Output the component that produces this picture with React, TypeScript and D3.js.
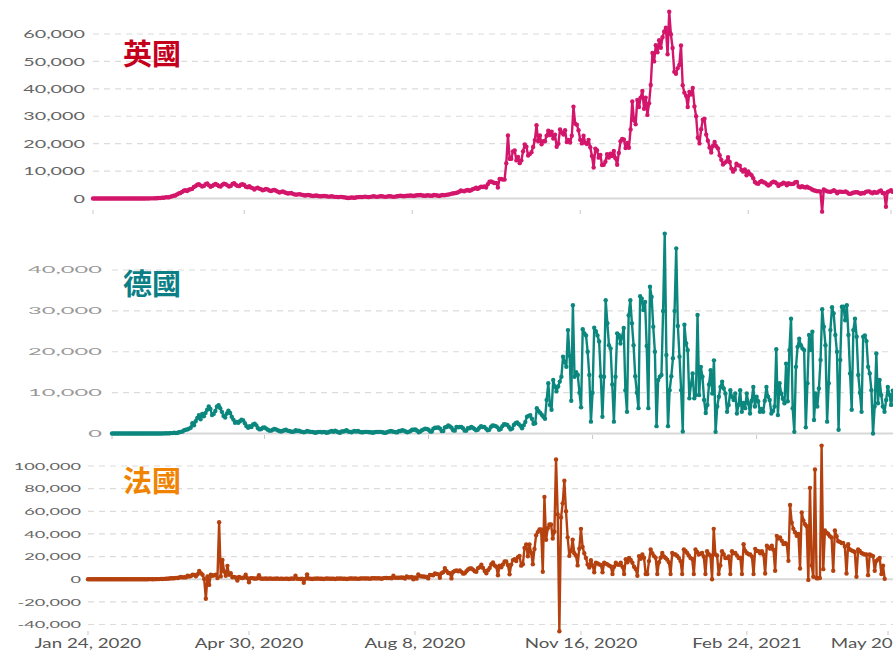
import React from "react";
import * as d3 from "d3";

// ---------- DATA (daily new cases, in thousands) ----------
// UK: daily from 2020-01-31
const ukCasesK = [
  0,0,0,0,0,0,0,0,0,0, 0,0,0,0,0,0,0,0,0,0, 0,0,0,0,0,0,0,0,0,0,
  0.01,0.01,0.03,0.02,0.05, 0.05,0.05,0.1,0.1,0.2,
  0.15,0.25,0.3,0.4,0.5, 0.4,0.6,0.8,1.0,1.1,
  1.5,1.8,2.0,2.4,2.8, 3.0,2.7,3.2,3.4,3.5,
  4.2,4.5,5.0,5.2,4.8, 4.4,4.6,5.2,5.5,4.8,
  4.3,4.6,5.0,5.3,4.9, 4.5,4.4,5.0,5.4,5.2,
  4.8,4.4,4.6,5.3,5.6, 5.0,4.6,4.5,5.0,5.2,
  4.9,4.3,4.1,4.5,4.0, 3.8,3.3,3.7,3.9,3.6,
  3.4,3.0,3.2,3.5,3.3, 2.9,2.7,3.0,3.1,2.8,
  2.5,2.2,2.4,2.6,2.3, 2.0,1.8,1.9,2.0,1.7,
  1.5,1.4,1.5,1.6,1.4, 1.3,1.1,1.2,1.3,1.2,
  1.0,0.9,1.0,1.1,0.9, 0.8,0.8,0.9,0.9,0.8,
  0.7,0.7,0.8,0.7,0.6, 0.6,0.5,0.6,0.6,0.5,
  0.4,0.3,0.2,0.3,0.4, 0.3,0.3,0.5,0.5,0.6,
  0.5,0.6,0.7,0.6,0.5, 0.6,0.7,0.8,0.7,0.6,
  0.7,0.8,0.8,0.7,0.6, 0.7,0.8,0.8,0.7,0.6,
  0.7,0.8,0.9,1.0,0.9, 0.8,0.9,1.0,1.0,1.1,
  1.0,0.9,1.1,1.2,1.2, 1.3,1.1,1.0,1.0,1.2,
  1.1,1.0,1.0,1.3,1.2, 1.1,0.9,1.1,1.3,1.2,
  1.3,1.4,1.5,1.7,1.8, 1.9,2.0,2.2,2.5,2.9,
  2.7,2.6,2.9,3.1,2.8, 3.0,3.4,3.6,3.9,3.5,
  3.9,4.3,4.2,4.4,4.0, 5.2,6.1,6.2,5.9,5.6,
  5.7,4.0,7.1,7.1,6.9,6.9,
  12.9,23.0,14.5,14.5,17.2,17.5,13.9,15.2,12.9,
  13.9,17.2,19.7,18.9,15.7,16.2,16.9,
  18.8,21.3,26.7,20.9,23.0,19.8,20.9,
  20.9,22.9,24.7,23.1,24.4,21.9,23.3,
  18.9,20.0,25.2,24.1,23.3,24.9,20.6,
  21.4,20.4,22.9,33.5,27.3,26.9,24.9,
  21.4,20.1,22.9,20.3,19.9,21.4,18.7,
  15.5,11.3,18.2,17.6,14.9,15.9,12.2,
  12.3,13.4,16.2,14.9,16.3,15.5,17.3,
  14.7,12.3,16.6,20.9,21.7,21.5,18.4,
  20.3,18.5,25.2,35.4,28.5,27.1,35.9,
  33.4,36.8,39.2,32.7,36.8,30.5,34.7,
  41.4,53.1,50.0,55.9,53.3,57.7,55.0,
  58.8,60.9,62.3,52.6,68.1,59.9,54.9,
  46.2,45.5,47.5,48.7,55.8,41.3,38.6,
  37.5,33.4,38.9,37.9,40.3,33.6,30.0,
  22.2,20.1,25.3,28.7,29.1,23.3,21.1,
  18.6,16.8,19.2,20.6,19.1,18.3,15.8,
  14.1,12.4,13.0,13.5,15.1,13.3,10.9,
  9.8,10.6,12.7,12.1,12.0,10.4,9.8,
  10.6,8.5,9.9,9.0,8.5,7.4,6.0,
  5.5,5.4,6.0,6.4,5.9,5.8,5.2,
  4.7,5.1,5.8,6.1,5.9,5.5,4.6,
  5.1,5.3,5.8,5.5,4.8,5.6,5.3,
  5.3,5.4,5.9,6.0,4.4,4.1,4.5,
  4.2,4.0,4.3,3.9,3.7,3.3,3.0,
  2.8,2.6,2.7,2.5,-4.8,3.3,2.9,
  2.6,2.5,2.4,2.7,3.0,2.6,1.9,
  2.5,2.5,2.4,2.4,2.6,2.2,1.7,
  1.7,2.0,2.2,2.3,2.3,2.0,1.7,
  2.0,1.9,2.4,2.6,2.6,2.2,1.9,
  2.4,2.1,2.2,2.7,2.9,2.0,1.9,
  -3.0,2.4,2.7,3.0,2.4,
];

// Germany: daily from 2020-01-28
const deCasesK = [
  0,0,0,0,0,0,0,
  0,0,0,0,0,0,0,
  0,0,0,0,0,0,0,
  0,0,0,0,0,0,0,
  0,0,0.01,0.02,0.03,0.05,0.02,
  0.05,0.1,0.1,0.2,0.1,0.2,0.3,
  0.4,0.5,0.8,0.9,1.0,1.2,1.4,
  2.5,2.0,3.0,3.8,4.5,3.5,4.8,
  4.2,5.0,5.8,6.6,6.0,4.5,4.8,
  5.5,6.6,6.9,6.2,5.3,4.3,3.9,
  4.9,5.6,5.0,4.1,3.4,2.6,2.8,
  2.6,3.0,3.4,3.2,2.5,1.8,1.4,
  1.8,1.6,2.2,2.4,2.0,1.3,1.0,
  1.1,1.4,1.5,1.2,0.9,0.7,0.7,
  0.9,1.1,1.0,0.8,0.6,0.5,0.6,
  0.8,0.9,0.7,0.6,0.5,0.4,0.5,
  0.8,0.6,0.7,0.5,0.4,0.3,0.4,
  0.6,0.5,0.4,0.4,0.3,0.2,0.3,
  0.4,0.4,0.3,0.4,0.3,0.2,0.3,
  0.5,0.6,0.4,0.7,0.5,0.3,0.2,
  0.5,0.5,0.6,0.8,0.5,0.4,0.3,
  0.5,0.6,0.5,0.6,0.4,0.3,0.3,
  0.4,0.4,0.4,0.3,0.3,0.2,0.3,
  0.4,0.4,0.4,0.4,0.3,0.2,0.2,
  0.4,0.5,0.6,0.5,0.4,0.3,0.3,
  0.6,0.6,0.8,0.7,0.5,0.3,0.4,
  0.6,0.9,0.9,1.0,0.7,0.3,0.5,
  0.8,1.0,1.2,1.1,0.9,0.5,0.5,
  1.2,1.4,1.4,1.5,1.2,0.6,0.6,
  1.5,1.6,2.0,1.7,1.4,0.8,0.7,
  1.6,1.5,1.6,1.6,1.3,0.7,0.7,
  1.3,1.3,1.6,1.4,1.1,0.8,0.9,
  1.4,1.8,1.6,1.6,1.2,0.8,0.9,
  1.6,2.0,1.9,1.8,1.5,0.9,1.1,
  1.8,2.3,2.2,2.1,1.6,1.0,1.2,
  2.1,2.5,2.7,2.3,1.9,1.3,2.0,
  2.8,4.1,4.3,4.5,3.6,2.4,2.5,
  6.2,5.5,5.1,4.6,4.1,3.6,8.2,
  12.3,7.0,5.8,13.1,11.5,10.3,11.5,
  12.7,13.9,18.8,17.5,16.3,25.3,19.0,
  8.0,31.4,13.9,15.0,14.3,10.0,6.4,
  25.5,24.5,24.0,20.0,14.3,2.9,10.0,
  25.9,25.0,24.0,22.5,14.0,4.1,13.9,
  32.6,27.0,21.6,20.8,12.0,2.9,13.9,
  24.5,24.1,22.0,23.7,25.8,10.6,5.3,
  28.9,32.6,27.0,21.6,14.0,10.0,6.2,
  33.6,33.0,30.2,32.2,21.4,6.2,35.9,
  33.4,26.1,20.0,1.8,13.1,13.9,14.3,
  30.0,48.9,19.2,1.8,10.6,14.0,18.4,
  30.0,45.3,26.3,18.8,10.6,0.5,26.6,
  22.1,20.4,8.6,12.0,14.7,8.6,9.4,
  29.0,9.4,16.3,13.9,8.2,5.0,7.0,
  12.0,15.5,9.8,17.9,0.4,6.6,9.0,
  11.4,12.7,11.0,9.8,5.3,7.0,10.6,
  9.0,8.2,9.8,4.9,7.0,10.6,5.3,
  7.5,6.2,9.8,7.4,4.9,8.0,11.4,
  6.6,9.0,7.9,5.3,6.0,5.3,8.0,
  11.4,9.0,8.2,4.9,5.5,6.6,20.6,
  4.5,12.3,9.8,8.5,7.4,17.1,7.9,
  20.4,28.1,6.2,0.4,16.3,21.2,23.2,
  21.6,20.8,20.4,1.5,12.3,24.1,20.4,
  24.9,3.3,9.8,6.6,11.0,18.0,30.4,
  26.1,21.6,2.9,12.3,25.3,30.9,29.4,
  24.1,20.0,0.9,18.0,31.0,31.0,27.7,
  31.4,24.1,14.7,5.8,25.3,28.1,23.7,
  14.3,10.0,5.3,23.7,24.0,22.6,16.3,
  14.7,10.6,0.0,6.6,19.6,7.4,13.1,
  9.4,6.6,5.3,8.2,11.4,9.5,7.0,
  10.5,8.0,
];

// France: daily from 2020-01-24
const frCasesK = [
  0,0,0,0,0,0,0,
  0,0,0,0,0,0,0,
  0,0,0,0,0,0,0,
  0,0,0,0,0,0,0,
  0,0,0,0,0,0,0.01,
  0.02,0.02,0.04,0.04,0.03,0.06,0.04,
  0.1,0.1,0.3,0.2,0.3,0.4,0.5,
  0.6,0.8,0.9,0.9,1.2,1.1,1.5,
  1.9,1.6,1.8,1.6,3.0,2.4,2.9,
  3.9,3.8,2.6,4.4,7.4,5.3,4.0,
  0.2,-17.3,2.4,-5.0,4.0,3.0,3.5,
  4.0,1.0,50.3,2.5,17.0,6.8,3.0,
  11.8,4.0,5.3,1.8,2.0,1.5,-1.2,
  2.0,1.3,1.1,1.5,4.0,1.0,-2.7,
  1.0,1.0,0.6,0.5,0.8,3.5,0.6,
  0.4,0.5,0.6,0.4,0.5,0.6,0.3,
  0.5,0.4,0.6,0.3,0.5,0.4,0.3,
  0.5,0.4,0.2,0.4,0.6,0.3,3.1,
  0.4,0.3,0.2,0.5,-3.2,0.3,4.3,
  0.5,0.5,0.2,0.4,0.5,0.6,0.5,
  0.4,0.4,0.2,0.5,0.6,0.5,0.4,
  0.5,0.4,0.1,0.6,0.5,0.6,0.5,
  0.4,0.5,0.2,0.5,0.6,0.6,0.5,
  0.6,0.5,0.3,0.6,0.7,0.7,0.6,
  0.7,0.6,0.3,0.8,0.9,0.8,0.7,
  0.8,0.7,0.4,1.0,1.2,1.1,1.0,
  1.1,0.9,3.0,1.2,1.4,1.3,1.4,
  1.5,1.3,0.6,2.4,1.7,1.6,1.9,
  0.0,1.5,0.5,4.3,2.7,2.5,2.4,
  2.2,2.0,0.7,3.8,3.6,3.5,5.2,
  4.6,4.3,1.2,5.4,6.1,9.8,7.4,
  5.5,5.3,0.7,6.4,7.2,7.7,7.0,
  7.7,6.5,4.9,5.3,7.0,8.6,9.5,
  9.4,8.5,7.1,6.6,9.8,10.6,12.8,
  10.0,7.2,5.3,7.9,10.0,13.2,14.7,
  12.1,11.1,3.5,12.0,10.5,13.0,15.6,
  15.6,12.6,4.3,12.9,16.9,17.7,16.1,
  19.4,20.6,12.0,13.2,27.7,30.6,20.3,
  30.7,23.4,13.2,26.7,38.9,41.6,44.0,
  44.0,6.6,72.7,34.9,45.0,48.4,48.4,
  36.0,42.0,105.7,57.3,-46.0,54.6,67.0,
  87.0,60.0,37.0,20.6,25.0,34.8,23.0,
  21.0,12.2,27.0,44.5,28.5,23.0,18.8,
  13.0,10.4,16.7,12.2,6.2,14.6,14.0,
  13.1,12.5,6.2,14.6,13.8,13.1,12.0,
  11.2,4.5,11.0,14.6,13.0,12.7,14.6,
  11.0,4.5,17.7,15.0,18.8,17.0,14.6,
  11.0,9.0,3.0,20.4,18.0,21.8,19.0,
  4.5,4.5,16.0,26.2,23.0,20.4,19.0,
  4.5,15.0,19.0,23.2,20.0,18.8,17.3,
  15.0,4.5,23.2,22.0,21.8,20.5,18.8,
  16.0,4.5,26.2,25.0,23.2,21.0,18.8,
  18.0,4.5,26.2,24.0,21.8,22.5,23.2,
  20.0,4.5,24.8,22.0,21.0,0.0,44.5,
  21.8,21.0,4.5,12.2,24.8,22.0,18.8,
  18.8,20.0,4.5,24.8,23.0,23.2,21.0,
  18.8,19.0,4.5,30.9,25.0,23.2,22.0,
  21.8,20.0,4.5,26.8,25.0,24.8,23.0,
  24.8,21.8,5.0,29.5,28.0,27.0,29.5,
  26.0,7.5,38.3,36.0,36.8,34.0,31.0,
  32.0,30.9,16.2,65.6,50.0,44.5,41.5,
  38.3,40.0,9.5,59.0,52.0,48.6,46.8,
  -0.6,80.7,12.2,2.2,96.9,0.8,0.8,
  1.0,118.0,8.9,43.0,41.0,40.0,38.0,
  36.8,7.5,43.0,38.0,33.5,33.0,32.0,
  32.0,29.0,5.0,30.9,26.2,25.5,24.8,
  24.0,2.2,26.2,25.0,23.2,22.5,21.8,
  21.8,3.6,21.8,21.0,20.4,7.5,16.2,
  17.5,18.8,4.5,12.0,0.3,
];

const ukTicksK = [0, 10, 20, 30, 40, 50, 60];
const deTicksK = [0, 10, 20, 30, 40];
const frTicksK = [-40, -20, 0, 20, 40, 60, 80, 100];

const xTickDates = ["2020-04-30", "2020-08-08", "2020-11-16", "2021-02-24", "2021-05-20"];
const endDate = "2021-05-20";

// ---------- RENDER ----------
const W = 893;
const H = 650;
const parse = d3.timeParse("%Y-%m-%d");
const fmtDate = d3.timeFormat("%b %-d, %Y");
const fmtNum = (v: number) => d3.format(",")(v * 1000).replace("\u2212", "-");

type PanelCfg = {
  values: number[];
  start: string;
  xRange: [number, number];
  yDomain: [number, number];
  yRange: [number, number];
  yTicks: number[];
  color: string;
  title: string;
  titleColor: string;
  titleY: number;
  labelRight: number;
  labelSize: number;
  labelScale: number;
  labelColor: string;
  tickY: number;
  tickDates: string[];
  showXLabels: boolean;
};

function Panel(c: PanelCfg) {
  const startDate = parse(c.start)!;
  const x = d3.scaleTime().domain([startDate, parse(endDate)!]).range(c.xRange);
  const y = d3.scaleLinear().domain(c.yDomain).range(c.yRange);
  const pts = c.values.map((v, i) => ({ d: d3.timeDay.offset(startDate, i), v }));
  const line = d3
    .line<{ d: Date; v: number }>()
    .x((p) => x(p.d))
    .y((p) => y(p.v));
  const gridLeft = c.xRange[0];
  const tdates = [c.start, ...c.tickDates].map((s) => parse(s)!);
  return (
    <g>
      {c.yTicks.map((t) => (
        <g key={t}>
          <line
            x1={gridLeft}
            x2={W}
            y1={y(t)}
            y2={y(t)}
            stroke={t === 0 ? "#d8d8d8" : "#dcdcdc"}
            strokeWidth={t === 0 ? 2 : 1.2}
            strokeDasharray={t === 0 ? undefined : "6 5"}
          />
          <text
            transform={`translate(${c.labelRight},${y(t)}) scale(${c.labelScale},1)`}
            textAnchor="end"
            dy="0.36em"
            fontFamily="Lato, 'Open Sans', sans-serif"
            fontSize={c.labelSize}
            fill={c.labelColor}
          >
            {fmtNum(t)}
          </text>
        </g>
      ))}
      {tdates.map((d, i) => (
        <g key={i}>
          <line x1={x(d)} x2={x(d)} y1={c.tickY} y2={c.tickY + 4} stroke="#c8c8c8" strokeWidth={1} />
          {c.showXLabels && (
            <text
              transform={`translate(${x(d)},648) scale(1.5,1)`}
              textAnchor="middle"
              fontFamily="Lato, 'Open Sans', sans-serif"
              fontSize={12.5}
              fill="#555"
            >
              {fmtDate(d)}
            </text>
          )}
        </g>
      ))}
      <path d={line(pts) || ""} fill="none" stroke={c.color} strokeWidth={2.4} strokeLinejoin="round" />
      {pts.map((p, i) => (
        <circle key={i} cx={x(p.d)} cy={y(p.v)} r={2.2} fill={c.color} />
      ))}
      <text
        x={123}
        y={c.titleY}
        fontFamily="'Noto Sans CJK TC', 'Noto Sans CJK SC', sans-serif"
        fontWeight={700}
        fontSize={29}
        fill={c.titleColor}
      >
        {c.title}
      </text>
    </g>
  );
}

export default function App() {
  return (
    <svg
      width={W}
      height={H}
      viewBox={`0 0 ${W} ${H}`}
      style={{ position: "absolute", left: 0, top: 0, display: "block", background: "#fff" }}
    >
      <rect width={W} height={H} fill="#fff" />
      <Panel
        values={ukCasesK}
        start="2020-01-31"
        xRange={[93, 891]}
        yDomain={[0, 60]}
        yRange={[198.5, 34]}
        yTicks={ukTicksK}
        color="#d3166b"
        title="英國"
        titleColor="#c4001c"
        titleY={65}
        labelRight={85}
        labelSize={11.5}
        labelScale={1.72}
        labelColor="#666"
        tickY={210}
        tickDates={xTickDates}
        showXLabels={false}
      />
      <Panel
        values={deCasesK}
        start="2020-01-28"
        xRange={[112, 896]}
        yDomain={[0, 40]}
        yRange={[433.5, 270]}
        yTicks={deTicksK}
        color="#0b877e"
        title="德國"
        titleColor="#0c7f86"
        titleY={295}
        labelRight={102}
        labelSize={8.6}
        labelScale={2.75}
        labelColor="#999"
        tickY={435}
        tickDates={xTickDates}
        showXLabels={false}
      />
      <Panel
        values={frCasesK}
        start="2020-01-24"
        xRange={[88, 888]}
        yDomain={[-40, 100]}
        yRange={[624.5, 466]}
        yTicks={frTicksK}
        color="#b5410f"
        title="法國"
        titleColor="#f08400"
        titleY={492}
        labelRight={81}
        labelSize={10.2}
        labelScale={1.78}
        labelColor="#666"
        tickY={631}
        tickDates={xTickDates}
        showXLabels={true}
      />
    </svg>
  );
}
